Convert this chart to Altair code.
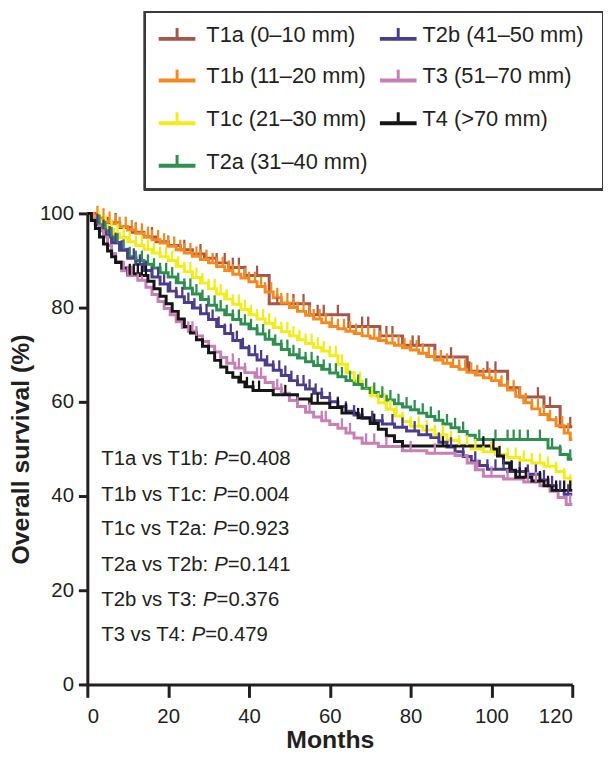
import bisect
import altair as alt
import pandas as pd

FONT = "Liberation Sans"
INK = "#231f20"

series_names = ["T1a", "T1b", "T1c", "T2a", "T2b", "T3", "T4"]
legend_labels = ["T1a (0–10 mm)", "T1b (11–20 mm)", "T1c (21–30 mm)", "T2a (31–40 mm)",
                 "T2b (41–50 mm)", "T3 (51–70 mm)", "T4 (>70 mm)"]
colors = ["#a4574a", "#f5891f", "#f3ec1a", "#2f8f50", "#4b3c8e", "#c77fb6", "#151515"]

# ---- step points (month, survival %) ----
t1a_m = [0, 2, 5, 8, 11, 14, 17, 20, 23, 26, 29, 32, 35, 39, 45, 55, 64.7, 72.4, 78, 86, 94, 104, 107, 113, 117, 120]
t1a_s = [100, 99, 98, 97, 96, 95, 94, 93.2, 92.3, 91.4, 90.5, 89.5, 88.5, 86.8, 80.8, 78.5, 76, 74, 72, 69.5, 66.5, 63, 61, 59, 54.7, 54.7]

t1b_m = [0, 1.5, 3, 4.5, 6, 8, 10, 12, 14, 16, 18, 20, 22, 24, 26, 28, 30, 32, 34, 36, 38, 40, 42, 44, 46, 48, 50,
         52, 54, 56, 58, 60, 62, 64, 66, 68, 70, 72, 74, 76, 78, 80, 82, 84, 86, 88, 90, 92, 94, 96, 98, 100,
         102, 104, 106, 108, 110, 112, 114, 116, 118, 119.5, 120]
t1b_s = [100, 99.5, 99, 98.3, 97.8, 97.2, 96.5, 95.8, 95.1, 94.4, 93.7, 93, 92.3, 91.6, 90.9, 90.2, 89.5, 88.7, 87.9,
         87.1, 86.3, 85.5, 84.5, 83.3, 82.1, 81, 80, 79.2, 78.4, 77.6, 76.8, 76, 75.5, 75, 74.5, 74, 73.5, 73, 72.5,
         72, 71.5, 71, 70.3, 69.6, 68.9, 68.2, 67.5, 66.9, 66.3, 65.7, 65.1, 64.5, 63.5, 62.5, 61.2, 59.8, 58.5, 57.3,
         56.2, 54.9, 53.4, 52, 52]

t1c_m = [0, 1, 2, 3.5, 5, 6.5, 8, 10, 12, 14, 16, 18, 20, 22, 24, 26, 28, 30, 32, 34, 36, 38, 40, 42, 44, 46, 48, 50,
         52, 54, 56, 58, 60, 62, 64, 66, 68, 70, 72, 74, 76, 78, 80, 83, 86, 89, 92, 95, 98, 101, 104, 107, 110, 113,
         116, 118, 119.5, 120]
t1c_s = [100, 99.2, 98.4, 97.5, 96.6, 95.7, 94.9, 94, 93.2, 92.4, 91.6, 90.8, 90, 88.8, 87.6, 86.4, 85.2, 84, 82.9,
         81.8, 80.7, 79.6, 78.5, 77.6, 76.7, 75.8, 74.9, 74, 73.2, 72.4, 71.6, 70.8, 69.8, 68, 66.2, 64.3, 62.8, 61.3,
         59.8, 58.4, 57, 55.8, 54.8, 54, 53, 51.8, 50.8, 50, 49.4, 48.8, 48.2, 47.6, 47, 46.3, 45.2, 43.8, 42.5, 42.5]

t2a_m = [0, 1, 2, 3.5, 5, 6.5, 8, 10, 12, 14, 16, 18, 20, 22, 24, 26, 28, 30, 32, 34, 36, 38, 40, 42, 44, 46, 48, 50,
         52, 54, 56, 58, 60, 62, 64, 66, 68, 70, 72, 74, 76, 78, 80, 82, 84, 86, 88, 90, 92, 94, 96, 114, 117, 119, 120]
t2a_s = [100, 98.8, 97.6, 96.3, 95, 93.7, 92.4, 90.8, 90, 89.2, 88.4, 87.4, 86.5, 85.3, 84.1, 82.9, 81.7, 80.5, 79.5,
         78.5, 77.5, 76.5, 75.5, 74.4, 73.3, 72.2, 71.1, 70, 69.3, 68.5, 67.7, 66.9, 66.1, 65.3, 64.5, 63.7, 62.9, 62,
         61.2, 60.4, 59.6, 58.9, 58.3, 57.6, 56.9, 56.1, 55.3, 54.5, 53.7, 52.9, 52, 50.2, 48.8, 47.8, 47.8]

t2b_m = [0, 1, 2, 3, 4.5, 6, 8, 10, 12, 14, 16, 18, 20, 22, 24, 26, 28, 30, 32, 34, 36, 38, 40, 42, 44, 46, 48, 50,
         52, 54, 56, 58, 60, 62, 64, 66, 68, 70, 73, 76, 79, 82, 85, 87, 89, 91, 93, 95, 97, 99, 104, 109, 112, 114,
         116, 118, 120]
t2b_s = [100, 99, 97.8, 96.6, 95.2, 93.8, 92.2, 90.5, 89.2, 87.9, 86.5, 85, 83.5, 82.3, 81.1, 79.9, 78.7, 77.5, 76,
         74.5, 73, 71.5, 70, 68.9, 67.8, 66.7, 65.6, 64.5, 63.6, 62.7, 61.8, 60.9, 60, 59, 58, 57.2, 56.5, 56, 55.3,
         54.6, 53.8, 53, 52.4, 51.4, 50.4, 49.4, 48.4, 47.4, 46.5, 45.7, 45.2, 44.6, 43.4, 42.2, 41.2, 40.4, 40.4]

t3_m = [0, 1, 2, 3, 4, 5, 6, 7, 8.5, 10, 12.5, 14.5, 16, 17.5, 19, 20.5, 22, 23.5, 25, 27, 28.5, 30, 31.5, 33, 34.5,
        36.5, 39, 41.5, 44, 46, 48, 50, 52, 54, 56, 58, 60, 62, 64, 66, 68, 72, 78, 84, 91, 94, 96, 98, 103, 108,
        112, 114.5, 116.5, 118.5, 120]
t3_s = [100, 99, 98, 96.5, 95, 93.2, 91.5, 89.8, 87.8, 86.8, 85.8, 84.3, 82.8, 81.3, 79.8, 78.5, 77, 75.8, 75, 74,
        72.8, 71.8, 70.6, 69.4, 68.2, 67.2, 66.2, 65.2, 64.1, 62.8, 61.8, 60.3, 59, 57.8, 56.8, 56, 55.2, 54.4, 53.4,
        52.3, 51.2, 50.5, 49.6, 49.1, 48.6, 47, 45.6, 44.2, 43.6, 43, 42.2, 41, 39.7, 38.2, 38.2]

t4_m = [0, 1, 2, 3, 4, 5, 6, 7, 8.5, 10, 13, 15, 16.5, 18, 19.5, 21, 22.5, 24, 25.5, 27, 28.5, 30, 31.5, 33, 34.5,
        36, 37.5, 39, 41, 46, 52, 55, 60, 63, 67, 70, 72, 74, 76, 78, 100, 101.5, 103, 104.5, 106, 110, 113, 115, 120]
t4_s = [100, 98.5, 96.8, 95, 93.5, 92, 90.8, 89.6, 88.4, 87.2, 86.8, 85.6, 84, 82.4, 80.8, 79.2, 77.6, 76, 74.6,
        73.2, 71.8, 70.4, 68.8, 67.4, 66.2, 65.2, 64.2, 63.2, 62.4, 61.5, 60.6, 59.7, 58.8, 57.6, 56.6, 55.4, 54.2,
        52.8, 51.6, 50.6, 50, 48.5, 47, 45.5, 44, 43.2, 42.2, 41.2, 41.2]

# ---- censoring times (months) ----
t1a_c = [7, 12, 16, 20, 24, 28, 32, 34, 36, 37.5, 39, 42, 47, 51, 53.5, 57, 58.5, 62, 68, 69.5, 74, 75.5, 80.5, 82,
         90, 94.5, 99, 101, 111.5, 114.5, 119.5]
t1b_c = [2.5, 4, 5.5, 7, 8, 9.5, 11, 12, 13.5, 15, 16, 17.5, 19, 20, 21.5, 23, 24, 25.5, 27, 28, 29.5, 31, 32, 33.5,
         35, 36, 37.5, 39, 40, 41.5, 43, 44, 45.5, 47, 48, 49.5, 51, 52, 53.5, 55, 56, 57.5, 59, 60.5, 62, 63.5, 65,
         66.5, 68, 69.5, 71, 72.5, 74, 75.5, 77, 78.5, 80, 81.5, 83, 84.5, 86, 87.5, 89, 90.5, 92, 93.5, 95, 96.5, 98,
         99.5, 101, 102.5, 104, 105.5, 107, 108.5, 110, 111.5, 113, 114.5, 116, 117.5, 119]
t1c_c = [3, 4.5, 6, 7.5, 9, 10.5, 12, 13.5, 15, 16.5, 18, 19.5, 21, 22.5, 24, 25.5, 27, 28.5, 30, 31.5, 33, 34.5, 36,
         37.5, 39, 40.5, 42, 43.5, 45, 46.5, 48, 49.5, 51, 52.5, 54, 55.5, 57, 58.5, 60, 61.5, 63, 64.5, 66, 67.5, 69,
         70.5, 72, 73.5, 75, 76.5, 78, 80, 82, 84, 86, 88, 90, 92, 94, 96, 98, 100, 102, 104, 106, 108, 110, 112,
         114, 116, 118, 119.5]
t2a_c = [3, 4.5, 6, 7.5, 9, 10.5, 12, 13.5, 15, 16.5, 18, 19.5, 21, 22.5, 24, 25.5, 27, 28.5, 30, 31.5, 33, 34.5, 36,
         37.5, 39, 40.5, 42, 43.5, 45, 46.5, 48, 49.5, 51, 52.5, 54, 55.5, 57, 58.5, 60, 61.5, 63, 65, 67, 69, 71, 73,
         75, 77, 79, 81, 83, 85, 87, 89, 91, 93, 97, 101, 104, 105.5, 107, 109, 112, 115, 117, 119.5]
t2b_c = [2.5, 4, 5.5, 7, 8.5, 10, 11.5, 13, 14.5, 16, 17.5, 19, 20.5, 22, 23.5, 25, 26.5, 28, 29.5, 31, 32.5, 34, 35.5,
         37, 38.5, 40, 41.5, 43, 44.5, 46, 47.5, 49, 50.5, 52, 53.5, 55, 56.5, 58, 60, 62, 64, 66, 68, 70.5, 73, 75.5,
         78, 81, 84, 87, 90, 93, 96, 99, 101, 103, 105, 107, 109, 111, 113, 115, 117, 119]
t3_c = [9, 10, 11, 12.5, 13.5, 25, 26, 27, 36, 37.5, 39, 42, 43, 47, 48, 52, 55, 58, 59, 63, 65, 69, 71, 74, 80, 86,
        96.5, 100, 104, 109, 111, 119.5]
t4_c = [10.5, 11.5, 12.5, 13.5, 14.5, 38, 39.5, 41, 42.5, 49, 55.5, 57, 62, 64, 67, 68, 71, 88, 98, 100.5, 102, 105,
        107, 108.5, 112, 114, 116, 118, 119.5]

# ---- p-value annotations ----
ann_prefix = ["T1a vs T1b: ", "T1b vs T1c: ", "T1c vs T2a: ", "T2a vs T2b: ", "T2b vs T3: ", "T3 vs T4: "]
ann_value = ["=0.408", "=0.004", "=0.923", "=0.141", "=0.376", "=0.479"]
ann_y = [47.8, 40.3, 32.9, 25.4, 17.9, 10.4]

# ---------------------------------------------------------------------------
W, H = 489, 475
PX_PER_MONTH = W / 120.0
PX_PER_PCT = H / 100.0

steps = [(t1a_m, t1a_s), (t1b_m, t1b_s), (t1c_m, t1c_s), (t2a_m, t2a_s),
         (t2b_m, t2b_s), (t3_m, t3_s), (t4_m, t4_s)]
censors = [t1a_c, t1b_c, t1c_c, t2a_c, t2b_c, t3_c, t4_c]

line_rows, cens_rows = [], []
for k, name in enumerate(series_names):
    ms, ss = steps[k]
    for m, s in zip(ms, ss):
        line_rows.append({"series": name, "k": k, "month": m, "surv": s})
    for t in censors[k]:
        i = bisect.bisect_right(ms, t) - 1
        s = ss[i]
        cens_rows.append({"series": name, "k": k, "month": t, "surv": s,
                          "top": s + 10.0 / PX_PER_PCT})
lines_df = pd.DataFrame(line_rows)
cens_df = pd.DataFrame(cens_rows)

# Arial / Liberation Sans advance widths (per 1000 em)
AW = {"T": 611, "1": 556, "2": 556, "3": 556, "4": 556, "a": 556, "b": 556, "c": 500, "v": 500,
      "s": 500, "P": 667, ":": 278, " ": 278}
ANN_FS = 20.5
ANN_X0 = 3.45


def text_w(t, fs):
    return sum(AW.get(ch, 556) for ch in t) * fs / 1000.0


ann_rows = []
for pre, val, y in zip(ann_prefix, ann_value, ann_y):
    wpre = text_w(pre, ANN_FS)
    wp = text_w("P", ANN_FS)
    ann_rows.append({"pre": pre, "p": "P", "val": val, "y": y,
                     "x_pre": ANN_X0,
                     "x_p": ANN_X0 + wpre / PX_PER_MONTH,
                     "x_val": ANN_X0 + (wpre + wp) / PX_PER_MONTH})
ann_df = pd.DataFrame(ann_rows)

color_scale = alt.Scale(domain=series_names, range=colors)
xs = alt.Scale(domain=[0, 120], nice=False, zero=False)
ys = alt.Scale(domain=[0, 100], nice=False, zero=False)

x_axis = alt.Axis(values=[0, 20, 40, 60, 80, 100, 120], title="Months", tickSize=13,
                  labelPadding=9, titlePadding=1)
y_axis = alt.Axis(values=[0, 20, 40, 60, 80, 100], title="Overall survival (%)", tickSize=9,
                  labelPadding=5, titlePadding=6)

base = alt.Chart(lines_df)
curves = base.mark_line(interpolate="step-after", strokeWidth=3).encode(
    x=alt.X("month:Q", scale=xs, axis=x_axis),
    y=alt.Y("surv:Q", scale=ys, axis=y_axis),
    color=alt.Color("series:N", scale=color_scale, legend=None),
    detail="series:N",
    order="month:Q",
)

ticks = alt.Chart(cens_df).mark_rule(strokeWidth=2.3).encode(
    x=alt.X("month:Q", scale=xs),
    y=alt.Y("surv:Q", scale=ys),
    y2="top:Q",
    color=alt.Color("series:N", scale=color_scale, legend=None),
)

txt_common = dict(align="left", baseline="middle", font=FONT, fontSize=ANN_FS, color=INK)
ann_pre = alt.Chart(ann_df).mark_text(**txt_common).encode(
    x=alt.X("x_pre:Q", scale=xs), y=alt.Y("y:Q", scale=ys), text="pre:N")
ann_p = alt.Chart(ann_df).mark_text(fontStyle="italic", **txt_common).encode(
    x=alt.X("x_p:Q", scale=xs), y=alt.Y("y:Q", scale=ys), text="p:N")
ann_val = alt.Chart(ann_df).mark_text(**txt_common).encode(
    x=alt.X("x_val:Q", scale=xs), y=alt.Y("y:Q", scale=ys), text="val:N")

# ---- legend (pixel layout relative to the plot area) ----
LEG_COL_SYM = [72, 295]
LEG_COL_TXT = [120, 338]
LEG_ROW_Y = [-180, -138, -95, -52]
leg_rows = []
for i, (name, lab) in enumerate(zip(series_names, legend_labels)):
    col = 0 if i < 4 else 1
    row = i if i < 4 else i - 4
    sx = LEG_COL_SYM[col]
    sy = LEG_ROW_Y[row] + 4
    leg_rows.append({"series": name, "label": lab, "sx1": sx, "sx2": sx + 37, "sxm": sx + 18.5,
                     "sy": sy, "sy_top": sy - 11, "tx": LEG_COL_TXT[col], "ty": LEG_ROW_Y[row]})
leg_df = pd.DataFrame(leg_rows)

leg_box = alt.Chart(leg_df).mark_rect(fill=None, stroke="#3a3a3a", strokeWidth=2).encode(
    x=alt.value(58), x2=alt.value(520), y=alt.value(-203), y2=alt.value(-24))
leg_h = alt.Chart(leg_df).mark_rule(strokeWidth=4).encode(
    x=alt.X("sx1:Q", scale=None), x2="sx2:Q", y=alt.Y("sy:Q", scale=None),
    color=alt.Color("series:N", scale=color_scale, legend=None))
leg_v = alt.Chart(leg_df).mark_rule(strokeWidth=3).encode(
    x=alt.X("sxm:Q", scale=None), y=alt.Y("sy:Q", scale=None), y2="sy_top:Q",
    color=alt.Color("series:N", scale=color_scale, legend=None))
leg_txt = alt.Chart(leg_df).mark_text(align="left", baseline="middle", font=FONT, fontSize=22,
                                      color=INK).encode(
    x=alt.X("tx:Q", scale=None), y=alt.Y("ty:Q", scale=None), text="label:N")

chart = alt.layer(curves, ticks, ann_pre, ann_p, ann_val, leg_box, leg_h, leg_v, leg_txt).properties(
    width=W, height=H,
    padding={"left": 80, "top": 204, "right": 31, "bottom": 66},
    autosize=alt.AutoSizeParams(type="none"),
).configure_view(stroke=None).configure_axis(
    grid=False, domainColor=INK, domainWidth=3, tickColor=INK, tickWidth=3,
    labelFont=FONT, labelFontSize=20.5, labelColor=INK,
    titleFont=FONT, titleFontSize=25, titleFontWeight="bold", titleColor=INK,
)

chart.save("out.html", embed_options={"renderer": "svg", "actions": False})
